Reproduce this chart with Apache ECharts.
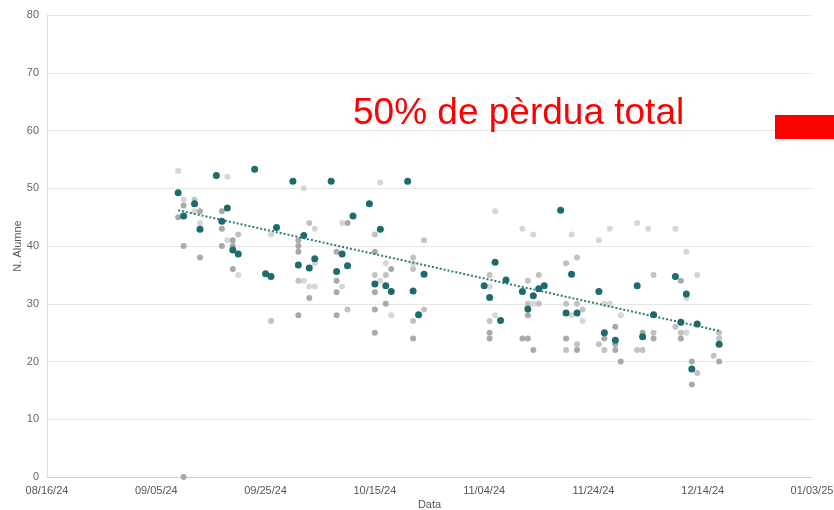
<!DOCTYPE html>
<html>
<head>
<meta charset="utf-8">
<script src="https://cdn.jsdelivr.net/npm/echarts@6/dist/echarts.min.js"></script>
<style>
html,body{margin:0;padding:0;background:#fff;}
#chart{width:834px;height:510px;}
</style>
</head>
<body>
<div id="chart"></div>
<script>
// ---- data ----
var baseDate = '2024-08-16';
var xTickDays = [0, 20, 40, 60, 80, 100, 120, 140];

var tealPoints = [
  ['2024-09-09',49.2],['2024-09-10',45.2],['2024-09-12',47.3],['2024-09-13',42.9],
  ['2024-09-16',52.2],['2024-09-17',44.3],['2024-09-18',46.6],['2024-09-19',39.3],
  ['2024-09-20',38.6],['2024-09-23',53.3],['2024-09-25',35.2],['2024-09-26',34.7],
  ['2024-09-27',43.2],['2024-09-30',51.2],['2024-10-01',36.7],['2024-10-02',41.8],
  ['2024-10-03',36.2],['2024-10-04',37.8],['2024-10-07',51.2],['2024-10-08',35.6],
  ['2024-10-09',38.6],['2024-10-10',36.6],['2024-10-11',45.2],['2024-10-14',47.3],
  ['2024-10-15',33.4],['2024-10-16',42.9],['2024-10-17',33.1],['2024-10-18',32.1],
  ['2024-10-21',51.2],['2024-10-22',32.2],['2024-10-23',28.1],['2024-10-24',35.1],
  ['2024-11-04',33.1],['2024-11-05',31.1],['2024-11-06',37.2],['2024-11-07',27.1],
  ['2024-11-08',34.1],['2024-11-11',32.1],['2024-11-12',29.1],['2024-11-13',31.4],
  ['2024-11-14',32.6],['2024-11-15',33.1],['2024-11-18',46.2],['2024-11-19',28.4],
  ['2024-11-20',35.1],['2024-11-21',28.4],['2024-11-25',32.1],['2024-11-26',25.0],
  ['2024-11-28',23.7],['2024-12-02',33.1],['2024-12-03',24.3],['2024-12-05',28.1],
  ['2024-12-09',34.7],['2024-12-10',26.8],['2024-12-11',31.7],['2024-12-12',18.7],
  ['2024-12-13',26.5],['2024-12-17',23.0]
];

var lightPoints = [
  ['2024-09-09',53],['2024-09-10',48],['2024-09-12',46],['2024-09-13',44],
  ['2024-09-18',52],['2024-09-18',41],['2024-09-20',35],['2024-09-26',42],
  ['2024-10-02',50],['2024-10-02',34],['2024-10-03',33],['2024-10-04',43],
  ['2024-10-04',37],['2024-10-04',33],['2024-10-09',44],['2024-10-09',33],
  ['2024-10-16',51],['2024-10-16',34],['2024-10-17',37],['2024-10-18',28],
  ['2024-10-22',37],['2024-11-05',33],['2024-11-06',46],['2024-11-06',28],
  ['2024-11-11',43],['2024-11-13',42],['2024-11-13',30],['2024-11-20',42],
  ['2024-11-20',28],['2024-11-22',27],['2024-11-25',41],['2024-11-26',30],
  ['2024-11-27',43],['2024-11-27',30],['2024-11-29',28],['2024-12-02',44],
  ['2024-12-04',43],['2024-12-09',43],['2024-12-11',39],['2024-12-11',31],
  ['2024-12-11',25],['2024-12-13',35]
];

var midPoints = [
  ['2024-09-12',48],['2024-09-20',42],['2024-09-26',27],['2024-10-01',34],
  ['2024-10-03',44],['2024-10-10',29],['2024-10-15',42],['2024-10-15',35],
  ['2024-10-17',35],['2024-10-22',38],['2024-10-22',36],['2024-10-22',27],
  ['2024-10-24',41],['2024-10-24',29],['2024-11-05',35],['2024-11-05',27],
  ['2024-11-12',34],['2024-11-12',30],['2024-11-14',35],['2024-11-14',30],
  ['2024-11-19',37],['2024-11-19',30],['2024-11-19',22],['2024-11-21',38],
  ['2024-11-21',30],['2024-11-21',23],['2024-11-22',29],['2024-11-25',23],
  ['2024-11-26',22],['2024-12-02',22],['2024-12-03',22],['2024-12-05',35],
  ['2024-12-05',25],['2024-12-09',26],['2024-12-10',25],['2024-12-13',18],
  ['2024-12-16',21],['2024-12-17',25],['2024-12-17',24]
];

var darkPoints = [
  ['2024-09-09',45],['2024-09-10',47],['2024-09-10',40],['2024-09-10',0],
  ['2024-09-13',46],['2024-09-13',38],['2024-09-17',46],['2024-09-17',43],
  ['2024-09-17',40],['2024-09-19',41],['2024-09-19',40],['2024-09-19',36],
  ['2024-10-01',41],['2024-10-01',40],['2024-10-01',39],['2024-10-01',28],
  ['2024-10-03',31],['2024-10-08',39],['2024-10-08',34],['2024-10-08',32],
  ['2024-10-08',28],['2024-10-10',44],['2024-10-15',39],['2024-10-15',32],
  ['2024-10-15',29],['2024-10-15',25],['2024-10-17',30],['2024-10-18',36],
  ['2024-10-22',24],['2024-11-05',25],['2024-11-05',24],['2024-11-11',24],
  ['2024-11-12',28],['2024-11-12',24],['2024-11-13',22],['2024-11-19',24],
  ['2024-11-21',22],['2024-11-26',24],['2024-11-28',26],['2024-11-28',23],
  ['2024-11-28',22],['2024-11-29',20],['2024-12-03',25],['2024-12-05',24],
  ['2024-12-10',34],['2024-12-10',24],['2024-12-12',20],['2024-12-12',16],
  ['2024-12-17',20]
];

var trendPoints = [['2024-09-09',46.2],['2024-12-17',25.3]];

var annotationText = '50% de pèrdua total';
var yAxisName = 'N. Alumne';
var xAxisName = 'Data';

// ---- helpers ----
var DAY = 86400000;
function toDay(s){
  var p = s.split('-'), b = baseDate.split('-');
  return (Date.UTC(+p[0], +p[1]-1, +p[2]) - Date.UTC(+b[0], +b[1]-1, +b[2])) / DAY;
}
function conv(arr){ return arr.map(function(d){ return [toDay(d[0]), d[1]]; }); }
function pad(n){ return (n < 10 ? '0' : '') + n; }
function fmt(v){
  var b = baseDate.split('-');
  var d = new Date(Date.UTC(+b[0], +b[1]-1, +b[2]) + v*DAY);
  return pad(d.getUTCMonth()+1) + '/' + pad(d.getUTCDate()) + '/' + String(d.getUTCFullYear()).slice(2);
}

var FONT = '"Liberation Sans", Arial, sans-serif';
var chart = echarts.init(document.getElementById('chart'), null, {renderer:'canvas'});
chart.setOption({
  animation: false,
  backgroundColor: '#fff',
  grid: {left: 47, right: 22, top: 15, bottom: 33, outerBoundsMode: 'none', containLabel: false},
  xAxis: {
    type: 'value', min: xTickDays[0], max: xTickDays[xTickDays.length-1],
    interval: xTickDays[1]-xTickDays[0],
    name: xAxisName, nameLocation: 'middle', nameGap: 22, nameMoveOverlap: false,
    nameTextStyle: {color:'#555', fontSize: 11, fontFamily: FONT},
    axisLine: {show: true, lineStyle: {color: '#cfcfcf', width: 1}},
    axisTick: {show: false},
    splitLine: {show: false},
    axisLabel: {color:'#555', fontSize: 11, fontFamily: FONT, margin: 8, formatter: fmt}
  },
  yAxis: {
    type: 'value', min: 0, max: 80, interval: 10,
    name: yAxisName, nameLocation: 'middle', nameGap: 24, nameMoveOverlap: false,
    nameTextStyle: {color:'#555', fontSize: 11, fontFamily: FONT},
    axisLine: {show: true, lineStyle: {color: '#dedede', width: 1}},
    axisTick: {show: false},
    splitLine: {show: true, lineStyle: {color: '#e6e6e6', width: 1}},
    axisLabel: {color:'#666', fontSize: 11, fontFamily: FONT, margin: 8}
  },
  series: [
    {type:'scatter', data: conv(lightPoints), symbolSize: 6, itemStyle:{color:'#d6d6d6', opacity: 1}, z: 2},
    {type:'scatter', data: conv(midPoints), symbolSize: 6, itemStyle:{color:'#c2c2c2', opacity: 1}, z: 2},
    {type:'scatter', data: conv(darkPoints), symbolSize: 6, itemStyle:{color:'#a9a9a9', opacity: 1}, z: 2},
    {type:'line', data: conv(trendPoints), symbol:'none', lineStyle:{color:'#2a7b7b', width:2, type:'dotted'}, z: 3},
    {type:'scatter', data: conv(tealPoints), symbolSize: 7, itemStyle:{color:'#1d6b6c', opacity: 1}, z: 4}
  ],
  graphic: [
    {type:'text', left: 353, top: 95, z: 10,
     style:{text: annotationText, fill:'#ff0000', font:'37px ' + FONT}},
    {type:'rect', left: 775, top: 115, z: 10,
     shape:{width: 59, height: 24}, style:{fill:'#ff0000'}}
  ]
});
</script>
</body>
</html>
